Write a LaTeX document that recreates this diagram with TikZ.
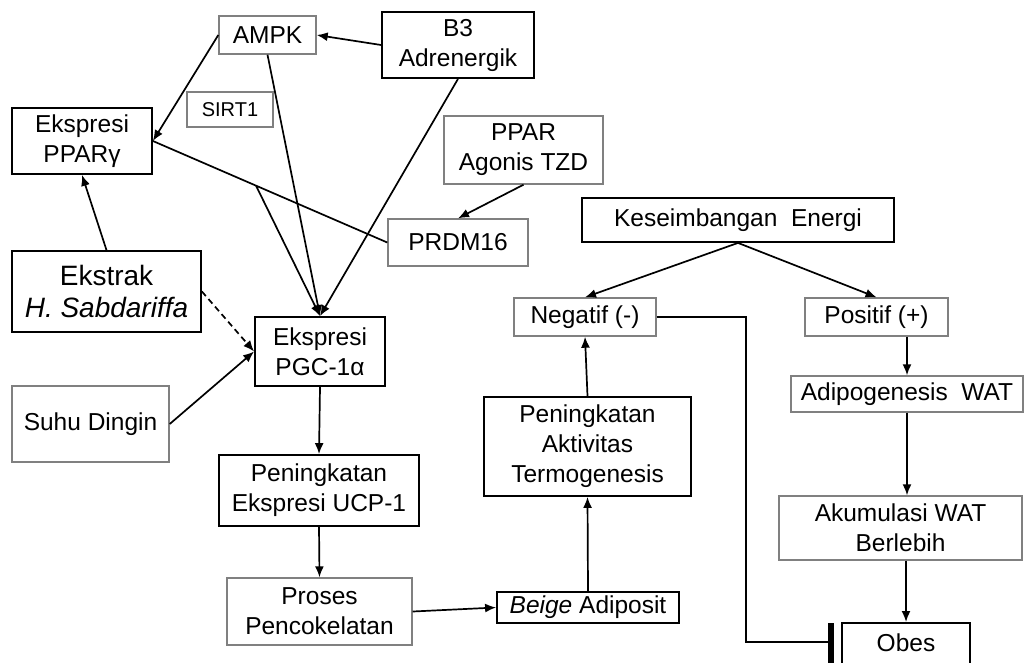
\documentclass[tikz,border=0pt]{standalone}
\usepackage{fontspec}
\setmainfont{Liberation Sans}
\usetikzlibrary{arrows.meta}

\tikzset{
    box/.style={draw=black, line width=1.8pt, align=center, inner sep=0pt, font=\fontsize{24.5}{30}\selectfont},
    gbox/.style={box, draw=black!50, line width=1.4pt},
    arr/.style={-{Latex[length=11pt,width=9pt]}, line width=1.7pt},
    inhib/.style={line width=5.5pt}
}

\begin{document}
\begin{tikzpicture}[x=1pt, y=-1pt]
    \useasboundingbox (0,0) rectangle (1024,662);
    \clip (0,0) rectangle (1024,662);

    \node[gbox, minimum width=97, minimum height=38] (ampk) at (267.5,35) {AMPK};
    \node[box, minimum width=152, minimum height=66] (bthree) at (458,45) {B3\\Adrenergik};
    \node[gbox, minimum width=86, minimum height=35, font=\fontsize{20}{24}\selectfont] (sirt) at (230,109.5) {SIRT1};
    \node[box, minimum width=140, minimum height=66] (ppar) at (82,141) {Ekspresi\\PPARγ};
    \node[gbox, minimum width=159, minimum height=68] (tzd) at (523.5,150) {PPAR\\Agonis TZD};
    \node[gbox, minimum width=140, minimum height=47] (prdm) at (458,242.5) {PRDM16};
    \node[box, minimum width=189, minimum height=81, font=\fontsize{28}{32}\selectfont] (ekstrak) at (106.5,291.5) {Ekstrak\\\textit{H. Sabdariffa}};
    \node[gbox, minimum width=157, minimum height=76] (suhu) at (90.5,424) {Suhu Dingin};
    \node[box, minimum width=130, minimum height=69] (pgc) at (320,351.5) {Ekspresi\\PGC-1α};
    \node[box, minimum width=200, minimum height=71] (ucp) at (319,490.5) {Peningkatan\\Ekspresi UCP-1};
    \node[gbox, minimum width=185, minimum height=67] (proses) at (319.5,611.5) {Proses\\Pencokelatan};
    \node[box, minimum width=182, minimum height=31] (beige) at (588,607.5) {\textit{Beige} Adiposit};
    \node[box, minimum width=207, minimum height=99] (aktiv) at (587.5,446.5) {Peningkatan\\Aktivitas\\Termogenesis};

    \node[box, minimum width=312, minimum height=44] (kes) at (738,220) {Keseimbangan\ \ Energi};
    \node[gbox, minimum width=142, minimum height=38] (neg) at (585,317) {Negatif (-)};
    \node[gbox, minimum width=143, minimum height=38] (pos) at (876.5,317) {Positif (+)};
    \node[gbox, minimum width=232, minimum height=36] (adipo) at (907,394) {Adipogenesis\ \ WAT};
    \node[gbox, minimum width=243, minimum height=64] (akum) at (900.5,528) {Akumulasi WAT\\Berlebih};
    \node[box, minimum width=128, text height=17pt, text depth=5pt, inner ysep=12pt, anchor=north] (obes) at (906,622) {Obes};
    \coordinate (inh) at (831,642);

    \draw[arr] (bthree.west) -- (ampk.east);
    \draw[arr] (ampk.west) -- (ppar.east);
    \draw[arr] (ampk.south) -- (pgc.north);
    \draw[arr] (bthree.south) -- (pgc.north);
    \draw[line width=1.7pt] (ppar.east) -- (prdm.west) coordinate[pos=0.44] (br);
    \draw[arr] (br) -- (pgc.north);
    \draw[arr] (tzd.south) -- (prdm.north);
    \draw[arr] (ekstrak.north) -- (ppar.south);
    \draw[arr, dash pattern=on 6pt off 4pt] (ekstrak.east) -- (pgc.west);
    \draw[arr] (suhu.east) -- (pgc.west);
    \draw[arr] (pgc.south) -- (ucp.north);
    \draw[arr] (ucp.south) -- (proses.north);
    \draw[arr] (proses.east) -- (beige.west);
    \draw[arr] (beige.north) -- (aktiv.south);
    \draw[arr] (aktiv.north) -- (neg.south);

    \draw[arr] (kes.south) -- (neg.north);
    \draw[arr] (kes.south) -- (pos.north);
    \draw[arr] (adipo.north |- pos.south) -- (adipo.north);
    \draw[arr] (adipo.south) -- (adipo.south |- akum.north);
    \draw[arr] (obes.north |- akum.south) -- (obes.north);

    \draw[line width=1.7pt] (neg.east) -- ++(89,0) |- (inh);
    \draw[inhib] (inh) ++(0,-19) -- ++(0,40);
\end{tikzpicture}
\end{document}
